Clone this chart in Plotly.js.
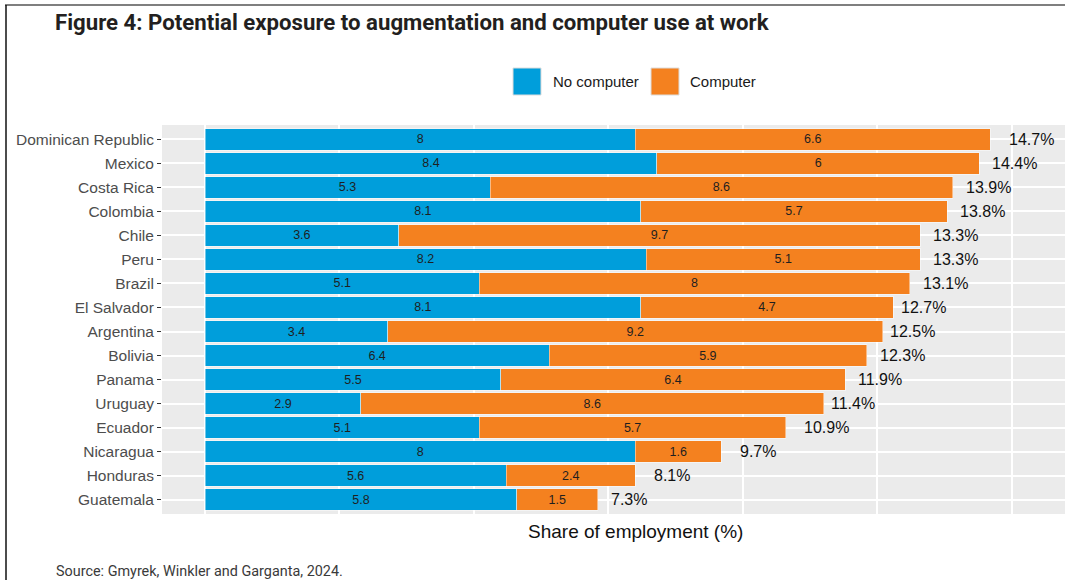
<!DOCTYPE html>
<html>
<head>
<meta charset="utf-8">
<script src="https://cdn.plot.ly/plotly-3.0.1.min.js"></script>
<style>html,body{margin:0;padding:0;background:#fff;}#chart{width:1065px;height:580px;}</style>
</head>
<body>
<div id="chart"></div>
<script>
var countries = ["Dominican Republic","Mexico","Costa Rica","Colombia","Chile","Peru","Brazil","El Salvador","Argentina","Bolivia","Panama","Uruguay","Ecuador","Nicaragua","Honduras","Guatemala"];
var noComputer = [8, 8.4, 5.3, 8.1, 3.6, 8.2, 5.1, 8.1, 3.4, 6.4, 5.5, 2.9, 5.1, 8, 5.6, 5.8];
var computer = [6.6, 6, 8.6, 5.7, 9.7, 5.1, 8, 4.7, 9.2, 5.9, 6.4, 8.6, 5.7, 1.6, 2.4, 1.5];
var totals = [14.7, 14.4, 13.9, 13.8, 13.3, 13.3, 13.1, 12.7, 12.5, 12.3, 11.9, 11.4, 10.9, 9.7, 8.1, 7.3];
var seriesNames = ["No computer", "Computer"];
var seriesColors = ["#009EDB", "#F4811F"];

var W = 1065, H = 580;
var M = {l: 162, r: 0, t: 125, b: 66};
var PW = W - M.l - M.r, PH = H - M.t - M.b;
function px(x){ return (x - M.l) / PW; }
function py(y){ return (H - M.b - y) / PH; }

var sans = "Liberation Sans, Arial, sans-serif";

function barTrace(vals, i){
  return {
    type: "bar", orientation: "h",
    y: countries, x: vals, name: seriesNames[i],
    marker: {color: seriesColors[i], line: {color: "rgba(255,255,255,0.45)", width: 1}},
    text: vals.map(function(v){ return String(v); }),
    textposition: "inside", insidetextanchor: "middle", textangle: 0,
    insidetextfont: {family: sans, size: 12.5, color: "#1f1f1f"},
    constraintext: "none",
    hoverinfo: "x+y+name", showlegend: false
  };
}

var data = [barTrace(noComputer, 0), barTrace(computer, 1)];

var annotations = countries.map(function(c, i){
  return {x: totals[i], y: c, xref: "x", yref: "y", text: totals[i].toFixed(1) + "%",
    showarrow: false, xanchor: "left", yanchor: "middle", xshift: 11,
    font: {family: sans, size: 16, color: "#111"}};
});
// axis title
annotations.push({x: px(635), y: py(531), xref: "paper", yref: "paper", text: "Share of employment (%)",
  showarrow: false, xanchor: "center", yanchor: "middle", font: {family: sans, size: 19, color: "#111"}});
// legend labels
annotations.push({x: px(551), y: py(82), xref: "paper", yref: "paper", text: seriesNames[0],
  showarrow: false, xanchor: "left", yanchor: "middle", font: {family: sans, size: 15, color: "#1a1a1a"}});
annotations.push({x: px(688), y: py(82), xref: "paper", yref: "paper", text: seriesNames[1],
  showarrow: false, xanchor: "left", yanchor: "middle", font: {family: sans, size: 15, color: "#1a1a1a"}});
// source
annotations.push({x: px(54), y: py(571), xref: "paper", yref: "paper", text: "Source: Gmyrek, Winkler and Garganta, 2024.",
  showarrow: false, xanchor: "left", yanchor: "middle", font: {family: "Roboto, sans-serif", size: 14.4, color: "#3a3a3a"}});

var shapes = [
  {type: "rect", xref: "paper", yref: "paper", x0: px(513), x1: px(541), y0: py(68), y1: py(95),
   fillcolor: seriesColors[0], line: {color: "#dcdcdc", width: 1}},
  {type: "rect", xref: "paper", yref: "paper", x0: px(651), x1: px(679), y0: py(68), y1: py(95),
   fillcolor: seriesColors[1], line: {color: "#dcdcdc", width: 1}},
  // frame
  {type: "line", xref: "paper", yref: "paper", x0: px(5), x1: px(1065), y0: py(5), y1: py(5),
   line: {color: "#555", width: 1.5}},
  {type: "line", xref: "paper", yref: "paper", x0: px(6), x1: px(6), y0: py(5), y1: py(580),
   line: {color: "#111", width: 1.5}}
];

var layout = {
  width: W, height: H, margin: M,
  paper_bgcolor: "#ffffff", plot_bgcolor: "#EBEBEB",
  barmode: "stack", bargap: 0.1,
  title: {text: "<b>Figure 4: Potential exposure to augmentation and computer use at work</b>",
    x: 55 / W, xanchor: "left", xref: "container", y: 1 - 22 / H, yanchor: "middle", yref: "container",
    font: {family: "Roboto, sans-serif", size: 22.2, color: "#231F20"}},
  xaxis: {range: [-0.8, 15.99], dtick: 2.5, tick0: 0, showticklabels: false, ticks: "",
    showgrid: true, gridcolor: "#ffffff", gridwidth: 2, zeroline: false, showline: false, fixedrange: true},
  yaxis: {type: "category", categoryorder: "array", categoryarray: countries, range: [15.6, -0.6],
    showgrid: true, gridcolor: "#ffffff", gridwidth: 2, zeroline: false, showline: false,
    ticks: "outside", ticklen: 4, tickwidth: 1.2, tickcolor: "#333",
    tickfont: {family: sans, size: 15.5, color: "#4D4D4D"}, fixedrange: true},
  showlegend: false,
  uniformtext: {mode: "show", minsize: 12},
  annotations: annotations, shapes: shapes
};

Plotly.newPlot("chart", data, layout, {displayModeBar: false, staticPlot: true});
</script>
</body>
</html>
